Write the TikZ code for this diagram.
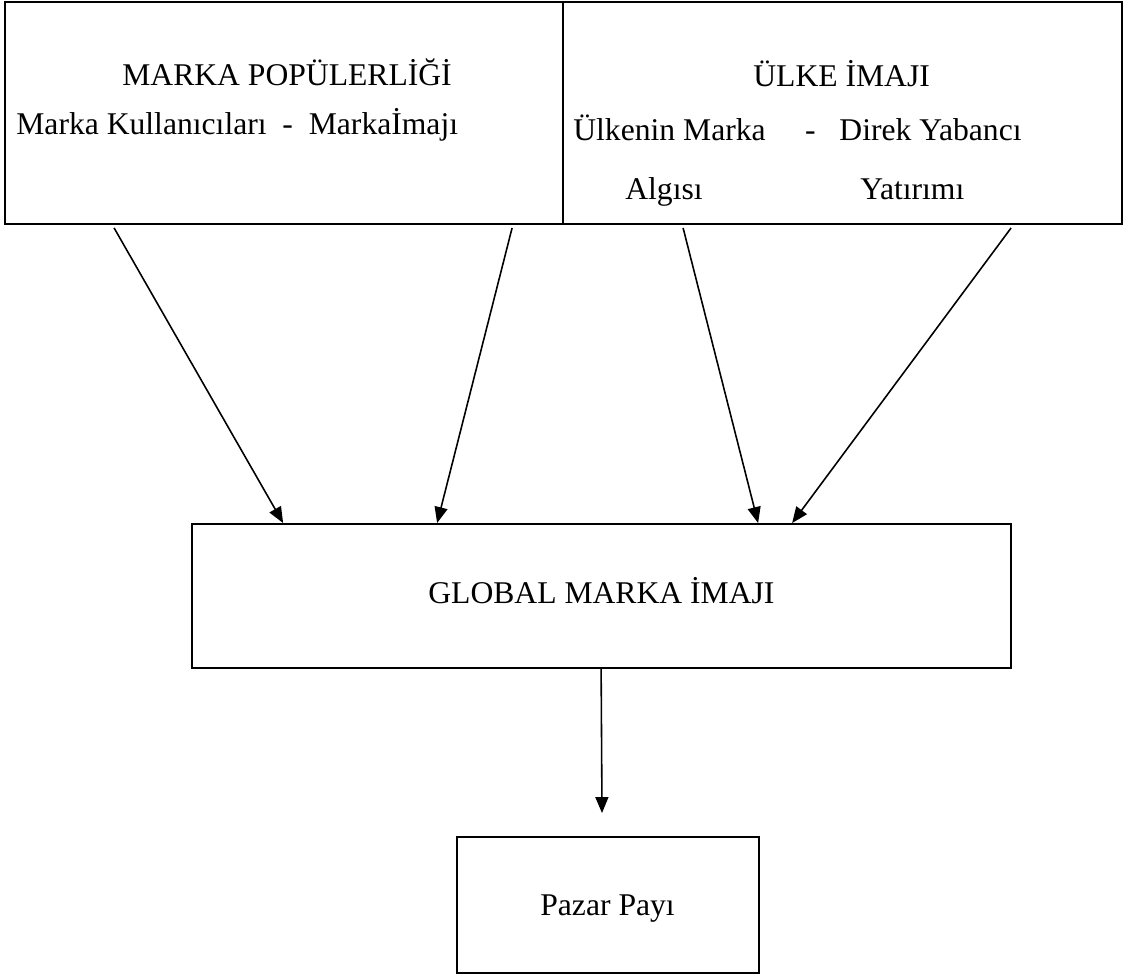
\documentclass[tikz,border=0pt]{standalone}
\usepackage{fontspec}
\setmainfont{Liberation Serif}
\usepackage{tikz}
\usetikzlibrary{arrows.meta,calc}

\begin{document}
\begin{tikzpicture}[x=0.02cm, y=-0.02cm, line cap=butt, line join=miter,
    >={Triangle[length=3.2mm, width=2.6mm]},
    box/.style={draw, line width=1.1pt, inner sep=0pt},
    txt/.style={inner sep=0pt, font=\fontsize{18}{22}\selectfont},
    flow/.style={->, line width=0.9pt}]
  \useasboundingbox (0,0) rectangle (1129,976);

  % Two source boxes side by side at the top
  \node[box, minimum width=11.16cm, minimum height=4.44cm] (pop) at (284,113) {};
  \node[box, minimum width=11.18cm, minimum height=4.44cm] (ulke) at (842.5,113) {};
  \node[txt, anchor=base west] (popT) at (122,86) {MARKA POPÜLERLİĞİ};
  \node[txt, anchor=base west] (popS) at (16,135) {Marka Kullanıcıları\ \ -\ \ Markaİmajı};
  \node[txt, anchor=base west] (ulkeT) at (753,87) {ÜLKE İMAJI};
  \node[txt, anchor=base west] (ulkeS) at (573,141) {Ülkenin Marka \quad -\ \ \ Direk Yabancı};
  \node[txt, anchor=base west] (ulkeA) at (625,200) {Algısı};
  \node[txt, anchor=base west] (ulkeB) at (860,200) {Yatırımı};

  % Middle box and the result box
  \node[box, minimum width=16.38cm, minimum height=2.88cm] (glob) at (601.5,596) {};
  \node[txt, anchor=base west] (globT) at (428,603) {GLOBAL MARKA İMAJI};
  \node[box, minimum width=6.04cm, minimum height=2.72cm] (pay) at (608,905) {};
  \node[txt, anchor=base west] (payT) at (540,915) {Pazar Payı};

  % Arrows into the middle box
  \draw[flow] ($(pop.south west)+(110,3)$) -- ($(glob.north west)+(92,0)$);
  \draw[flow] ($(pop.south west)+(508,3)$) -- ($(glob.north west)+(246,0)$);
  \draw[flow] ($(ulke.south west)+(121,3)$) -- ($(glob.north west)+(567,0)$);
  \draw[flow] ($(ulke.south west)+(449,3)$) -- ($(glob.north west)+(601,0)$);

  % Arrow down to the result
  \draw[flow] ($(glob.south west)+(410,0)$) -- ($(pay.north)+(-6,-23)$);
\end{tikzpicture}
\end{document}
